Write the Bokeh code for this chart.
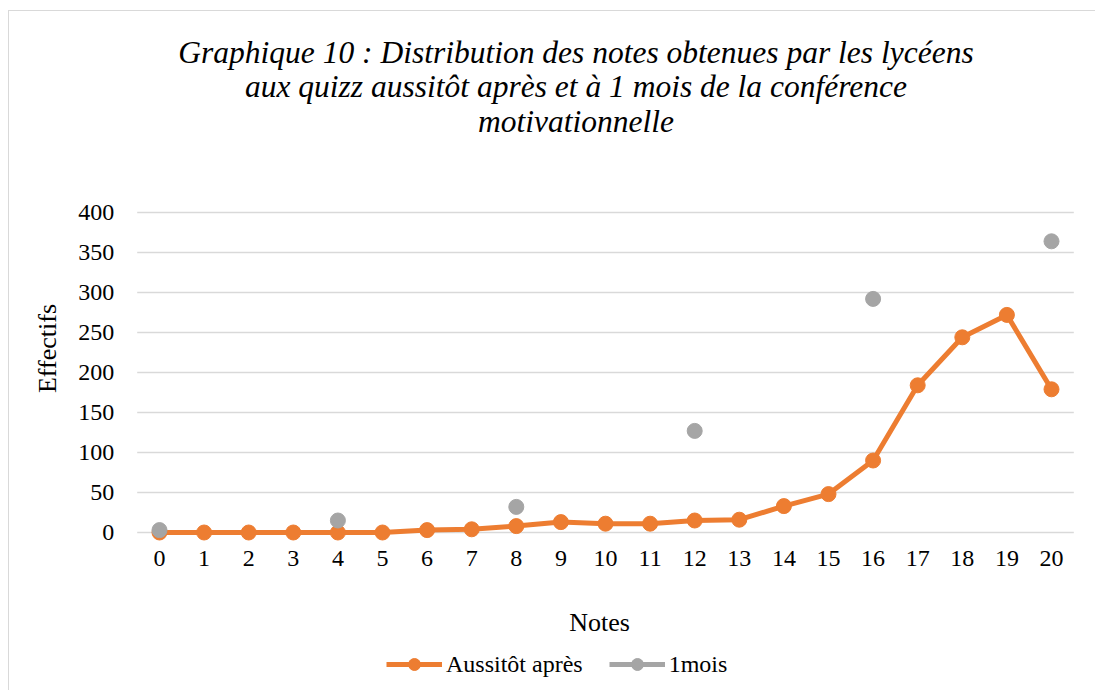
import math
from bokeh.plotting import figure
from bokeh.models import (Range1d, Legend, LegendItem, Label, FixedTicker,
                          ColumnDataSource)
from bokeh.embed import file_html
from bokeh.resources import INLINE

# ---- data ----
notes = list(range(21))
aussitot = [0, 0, 0, 0, 0, 0, 3, 4, 8, 13, 11, 11, 15, 16, 33, 48, 90, 184, 244, 272, 179]
nan = float("nan")
un_mois = [3, nan, nan, nan, 15, nan, nan, nan, 32, nan, nan, nan, 127,
           nan, nan, nan, 292, nan, nan, nan, 364]
y_ticks = [0, 50, 100, 150, 200, 250, 300, 350, 400]
title_lines = ["Graphique 10 : Distribution des notes obtenues par les lycéens",
               "aux quizz aussitôt après et à 1 mois de la conférence",
               "motivationnelle"]
series_names = ["Aussitôt après", "1mois"]
x_title = "Notes"
y_title = "Effectifs"

ORANGE = "#ED7D31"
GRAY = "#A5A5A5"
GRID = "#D9D9D9"
FONT = "Liberation Serif"

# canvas = plotting frame (everything drawn inside it)
W, H = 1087, 680
X0_PX, DX_PX = 150, 44.6       # pixel of note 0, pixels per note
Y0_PX, DY_PX = 159, 0.8        # pixel (from bottom) of value 0, pixels per unit
x_start = -X0_PX / DX_PX
y_start = -Y0_PX / DY_PX

p = figure(width=W, height=H, title=None,
           x_range=Range1d(x_start, x_start + W / DX_PX),
           y_range=Range1d(y_start, y_start + H / DY_PX),
           output_backend="svg", toolbar_location=None,
           min_border_left=0, min_border_right=0,
           min_border_top=0, min_border_bottom=0)
p.outline_line_color = None
p.background_fill_color = "white"
p.border_fill_color = "white"
p.xgrid.grid_line_color = None
p.ygrid.grid_line_color = None
p.styles = {"border-top": "1px solid #D9D9D9", "border-left": "1px solid #D9D9D9",
            "margin-left": "8px", "margin-top": "10px"}

# horizontal gridlines spanning the category band
grid_src = ColumnDataSource(dict(y=y_ticks, x0=[notes[0] - 0.5] * len(y_ticks),
                                 x1=[notes[-1] + 0.5] * len(y_ticks)))
p.segment(x0="x0", x1="x1", y0="y", y1="y", source=grid_src,
          line_color=GRID, line_width=1.3)

src = ColumnDataSource(dict(x=notes, a=aussitot, m=un_mois))
l1 = p.line("x", "a", source=src, line_color=ORANGE, line_width=5)
s1 = p.scatter("x", "a", source=src, size=15, fill_color=ORANGE, line_color=ORANGE)
l2 = p.line("x", "m", source=src, line_color=GRAY, line_width=5)
s2 = p.scatter("x", "m", source=src, size=15, fill_color=GRAY, line_color=GRAY)

# axes fixed at the edges of the category band
p.xaxis.ticker = FixedTicker(ticks=notes)
p.yaxis.ticker = FixedTicker(ticks=y_ticks)
p.xaxis.fixed_location = 0
p.yaxis.fixed_location = notes[0] - 0.5
for ax in (p.xaxis, p.yaxis):
    ax.axis_line_color = None
    ax.major_tick_line_color = None
    ax.minor_tick_line_color = None
    ax.major_label_text_font = FONT
    ax.major_label_text_font_size = "24px"
    ax.major_label_text_color = "black"
p.yaxis.major_label_standoff = 17
p.xaxis.major_label_standoff = 12

def screen_label(text, px, py, size, **kw):
    # px, py: page position of the text anchor (page origin = canvas origin + (8, 10))
    p.add_layout(Label(x=px - 8, y=H - (py - 10), x_units="screen", y_units="screen",
                       text=text, text_font=FONT, text_font_size=size,
                       text_color="black", **kw))

for txt, base in zip(title_lines, [50.5, 85, 119.5]):
    screen_label(txt, 574.5, base, "31.5px", text_align="center",
                 text_baseline="alphabetic", text_font_style="italic")

screen_label(y_title, 46, 347, "26px", angle=math.pi / 2, text_align="center",
             text_baseline="middle")
screen_label(x_title, 598, 621, "26px", text_align="center", text_baseline="middle")

legend = Legend(items=[LegendItem(label=series_names[0], renderers=[l1, s1]),
                       LegendItem(label=series_names[1], renderers=[l2, s2])],
                location=(385 - 8, H - (678 - 10)), orientation="horizontal",
                glyph_width=56, glyph_height=30, label_height=30,
                label_standoff=4, spacing=26, padding=0, margin=0,
                label_text_font=FONT, label_text_font_size="24px",
                label_text_color="black", border_line_color=None,
                background_fill_alpha=0)
p.add_layout(legend, "center")

open("out.html", "w").write(file_html(p, INLINE))
